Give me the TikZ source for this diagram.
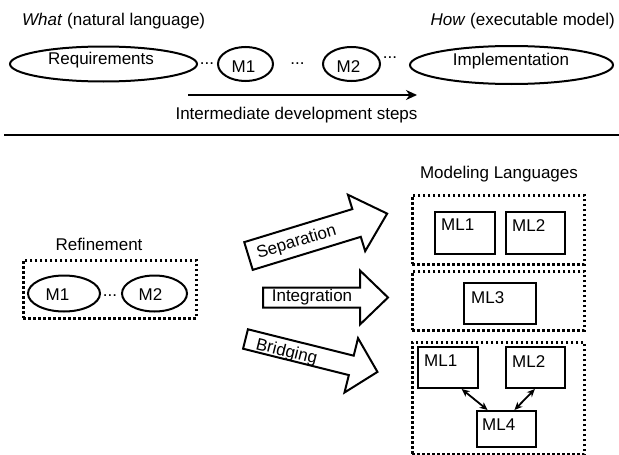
\documentclass[tikz,border=0pt]{standalone}
\usepackage{fontspec}
\setmainfont{Liberation Sans}
\usetikzlibrary{calc,arrows.meta,shapes.geometric}
\begin{document}
\begin{tikzpicture}[x=1pt,y=-1pt,
  font=\fontsize{17}{20}\selectfont,
  ell/.style={draw, line width=2pt, ellipse, inner sep=0pt},
  txt/.style={inner sep=0pt},
  dotbox/.style={draw, line width=2.6pt, dash pattern=on 2.5pt off 2.5pt, rectangle, inner sep=0pt, anchor=north west},
  mlbox/.style={draw, line width=2pt, rectangle, inner sep=0pt, anchor=north west},
  mltext/.style={anchor=north west, inner sep=0pt},
  bigarrow/.style={draw, line width=2pt, line join=miter, fill=white},
  dblarrow/.style={line width=1.8pt, {Stealth[length=8pt,width=7pt]}-{Stealth[length=8pt,width=7pt]}},
  ]
\useasboundingbox (0,0) rectangle (619,455);

% ---------- top part ----------
\node[txt, anchor=west] (what) at (22,21) {\textit{What} (natural language)};
\node[txt, anchor=east] (how) at (615,21) {\textit{How} (executable model)};

\node[ell, minimum width=187, minimum height=35] (req) at (103.5,64) {};
\node[txt] (reqt) at (101,60) {Requirements};
\node[txt, anchor=base] (d1) at (207,64.5) {...};
\node[ell, minimum width=55, minimum height=34] (m1) at (245.5,64) {};
\node[txt] (m1t) at (243.5,66.5) {M1};
\node[txt, anchor=base] (d2) at (297.5,64.5) {...};
\node[ell, minimum width=57, minimum height=34] (m2) at (351.5,64) {};
\node[txt] (m2t) at (348.5,66.5) {M2};
\node[txt, anchor=base] (d3) at (390,58.5) {...};
\node[ell, minimum width=203, minimum height=38] (impl) at (511.5,65) {};
\node[txt] (implt) at (511,61.5) {Implementation};

\coordinate (a0) at (188,95);
\coordinate (a1) at (417,95);
\draw[line width=2pt, -{Stealth[length=11pt,width=10pt]}] (a0) -- (a1);
\node[txt] (steps) at (296.5,115) {Intermediate development steps};

\coordinate (r0) at (4,135);
\coordinate (r1) at (619,135);
\draw[line width=2.4pt] (r0) -- (r1);

% ---------- refinement ----------
\node[txt] (reft) at (99,244) {Refinement};
\node[dotbox, minimum width=173, minimum height=58] (refbox) at (22,259) {};
\node[ell, minimum width=72, minimum height=36] (rm1) at (64,293.5) {};
\node[txt] (rm1t) at (57.5,295) {M1};
\node[txt, anchor=base] (rd) at (110,296.5) {...};
\node[ell, minimum width=65, minimum height=36] (rm2) at (154.5,293.5) {};
\node[txt] (rm2t) at (150.5,295) {M2};

% ---------- big arrows ----------
\begin{scope}[shift={(248.5,256)}, rotate=17]
  \draw[bigarrow] (0,-14.5) -- (113,-14.5) -- (113,-29.5) -- (145,0) -- (113,29.5) -- (113,14.5) -- (0,14.5) -- cycle;
  \node[txt, rotate=17] (sep) at (50,1) {Separation};
\end{scope}
\begin{scope}[shift={(263,297.5)}]
  \draw[bigarrow] (0,-10) -- (97,-10) -- (97,-27) -- (125,0) -- (97,27) -- (97,10) -- (0,10) -- cycle;
  \node[txt] (int) at (49,0) {Integration};
\end{scope}
\begin{scope}[shift={(245.5,339)}, rotate=-14]
  \draw[bigarrow] (0,-10) -- (109,-10) -- (109,-28) -- (136,0) -- (109,28) -- (109,10) -- (0,10) -- cycle;
  \node[txt, rotate=-14] (bri) at (43,3) {Bridging};
\end{scope}

% ---------- modeling languages ----------
\node[txt] (mlt) at (499,174) {Modeling Languages};

\node[dotbox, minimum width=172, minimum height=69] (box1) at (411,194) {};
\node[mlbox, minimum width=60, minimum height=42] (s1) at (434,211) {};
\node[mltext] (s1t) at ($(s1.north west)+(7,8)$) {ML1};
\node[mlbox, minimum width=59, minimum height=42] (s2) at (505,211) {};
\node[mltext] (s2t) at ($(s2.north west)+(7,8)$) {ML2};

\node[dotbox, minimum width=172, minimum height=59] (box2) at (411,270) {};
\node[mlbox, minimum width=72, minimum height=41] (i3) at (463,282) {};
\node[mltext] (i3t) at ($(i3.north west)+(8,9)$) {ML3};

\node[dotbox, minimum width=172, minimum height=112] (box3) at (411,341) {};
\node[mlbox, minimum width=60, minimum height=41] (b1) at (417,346) {};
\node[mltext] (b1t) at ($(b1.north west)+(7,9)$) {ML1};
\node[mlbox, minimum width=59, minimum height=41] (b2) at (505,346) {};
\node[mltext] (b2t) at ($(b2.north west)+(7,9)$) {ML2};
\node[mlbox, minimum width=59, minimum height=36] (b4) at (476,410) {};
\node[mltext] (b4t) at ($(b4.north west)+(6,9)$) {ML4};

\draw[dblarrow] ($(b1.south west)!0.72!(b1.south east)$) -- ($(b4.north west)!0.19!(b4.north east)$);
\draw[dblarrow] ($(b2.south west)!0.49!(b2.south east)$) -- ($(b4.north west)!0.63!(b4.north east)$);
\end{tikzpicture}
\end{document}
